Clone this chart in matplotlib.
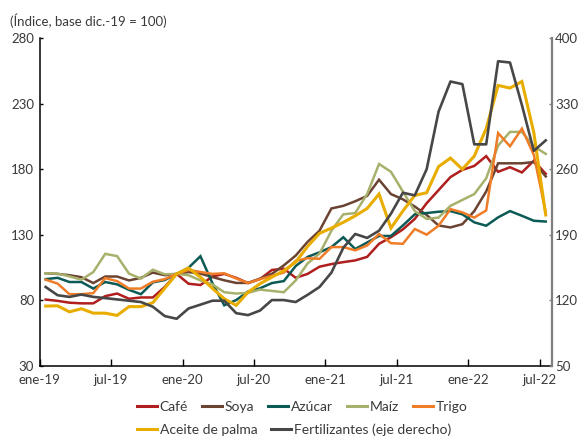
import numpy as np
import matplotlib
matplotlib.use("Agg")
import matplotlib.pyplot as plt
from matplotlib.lines import Line2D

plt.rcParams["font.family"] = ["Lato", "DejaVu Sans"]

# monthly data, ene-19 .. jul-22 (index, base dic-19 = 100)
tick_labels = ["ene-19", "jul-19", "ene-20", "jul-20",
               "ene-21", "jul-21", "ene-22", "jul-22"]

cafe = [80.4, 79.4, 78, 77.5, 77.5, 83, 85, 81, 82, 82, 90, 100,
        92.5, 91.5, 98, 100, 97, 93, 96, 103, 104, 97, 100,
        105.5, 107.5, 109, 110.3, 113, 123, 128, 134, 142, 154,
        164, 174, 179.5, 182.5, 190, 178, 181.5, 177.5, 186.5, 176.5]
soya = [100.5, 100, 99, 97.5, 93, 98, 98, 95, 97, 101, 99, 100,
        101.4, 100.2, 97.6, 95.1, 93.1, 93.1, 96.4, 100, 106.5, 114, 124.5,
        133, 150, 152, 155.5, 159.6, 172, 161, 157, 151.5, 145,
        137, 135.5, 138, 148, 163, 184.5, 184.5, 184.5, 185.5, 174.5]
azucar = [96, 97, 93.8, 93.8, 88.8, 93.8, 92, 87.8, 84.5, 93.5, 95.3, 100,
          104.7, 113.5, 93, 76, 80, 86.5, 89, 93, 94.5, 106, 113,
          116.5, 120.5, 128, 119, 124, 129, 129, 137, 145.5, 146.5,
          147.5, 148, 145.5, 139.4, 136.8, 143.2, 148, 144.4, 140.6, 140]
maiz = [100.5, 100.2, 98.1, 95.6, 101.4, 115.3, 113.6, 100.2, 96.4, 103.2, 99.7, 100,
        99, 95, 92, 86, 85, 85.5, 88, 87, 86, 95, 108,
        115.5, 133, 145.5, 146.5, 161, 184, 178, 163, 148, 142,
        143, 152, 156.5, 161, 173, 198, 208.5, 208.5, 197.5, 191.7]
trigo = [95.6, 92.6, 84.5, 84.5, 85.3, 96.8, 94.5, 88.8, 88.8, 94, 96, 100,
         103, 101.5, 100, 100.5, 96.5, 93, 96, 98.5, 101, 110, 112,
         111.5, 120.5, 120.5, 118, 121.7, 130.5, 123.5, 123, 134.3, 130,
         136.8, 149.5, 147, 143, 148.5, 207.6, 197.5, 211, 191, 147]
palma = [75.4, 75.6, 71, 73.4, 70, 70, 68.3, 75, 75, 78, 89, 100,
         104.5, 97.5, 89, 81, 76, 86, 92.5, 97.5, 102.5, 109, 121,
         131, 135, 139.4, 144.4, 150, 161, 135, 148, 160, 162,
         182, 188.5, 180, 190, 211, 244, 242, 247, 208, 145]
# right axis
fertilizantes = [134, 125.2, 123.4, 125.9, 123.4, 122.1, 120.7, 119.3, 117.9, 112.9, 102.9, 100,
                 111, 115.1, 119.3, 119.3, 106, 103.9, 108.8, 120, 120, 117.9, 125.6,
                 134, 149.4, 176, 190.7, 186.5, 194.2, 212.4, 234.8, 232, 260,
                 321.6, 353.8, 351, 286.6, 286.6, 375.5, 374.1, 328.6, 279.6, 290.8]

x = np.arange(len(cafe)) + 0.5
txt = "#3a3a3a"

fig = plt.figure(figsize=(5.79, 4.38), dpi=100)
ax = fig.add_axes([0.0686, 0.1655, 0.9528 - 0.0686, 0.9125 - 0.1655])
ax2 = ax.twinx()

series = [("Café", cafe, "#B01E1E", 1.8),
          ("Soya", soya, "#6B4332", 1.8),
          ("Azúcar", azucar, "#0B5A55", 1.8),
          ("Maíz", maiz, "#A8B16C", 1.8),
          ("Trigo", trigo, "#EF7D28", 1.8),
          ("Aceite de palma", palma, "#E9AD00", 2.2)]
handles = []
for name, vals, col, lw in series:
    ax.plot(x, vals, color=col, linewidth=lw, solid_joinstyle="miter")
    handles.append(Line2D([], [], color=col, linewidth=2.2, label=name))

ax2.plot(x, fertilizantes, color="#474747", linewidth=1.9)
handles.append(Line2D([], [], color="#474747", linewidth=2.2,
                      label="Fertilizantes (eje derecho)"))

ax.set_xlim(0, 43)
ax.set_ylim(30, 280)
ax2.set_ylim(50, 400)
ax.set_xticks(np.arange(0, 43, 6))
ax.set_xticklabels(tick_labels)
ax.set_yticks(np.arange(30, 281, 50))
ax2.set_yticks(np.arange(50, 401, 70))

for s in ["top", "right"]:
    ax.spines[s].set_visible(False)
for s in ["top", "left", "bottom"]:
    ax2.spines[s].set_visible(False)
ax.spines["left"].set_linewidth(1.1)
ax.spines["bottom"].set_linewidth(1.1)
ax2.spines["right"].set_color("#7f7f7f")
ax2.spines["right"].set_linewidth(1.6)

ax.tick_params(axis="x", direction="in", length=5, width=1, pad=6,
               labelsize=9.5, labelcolor=txt)
ax.tick_params(axis="y", direction="in", length=2.5, width=1, pad=4,
               labelsize=9.5, labelcolor=txt)
ax2.tick_params(axis="y", direction="in", length=2.5, width=1, pad=2.5,
                labelsize=9.5, labelcolor=txt, color="#7f7f7f")

fig.text(0.017, 0.952, "(Índice, base dic.-19 = 100)", fontsize=9.5,
         color=txt, va="center", ha="left")

leg_kw = dict(frameon=False, fontsize=10, handlelength=1.45,
              handletextpad=0.2, columnspacing=1.0, borderaxespad=0,
              borderpad=0, labelcolor=txt)
leg1 = fig.legend(handles=handles[:5], ncol=5, loc="center left",
                  bbox_to_anchor=(0.236, 0.071), **leg_kw)
leg2 = fig.legend(handles=handles[5:], ncol=2, loc="center left",
                  bbox_to_anchor=(0.236, 0.019), **leg_kw)

fig.savefig("out.png", dpi=100)
